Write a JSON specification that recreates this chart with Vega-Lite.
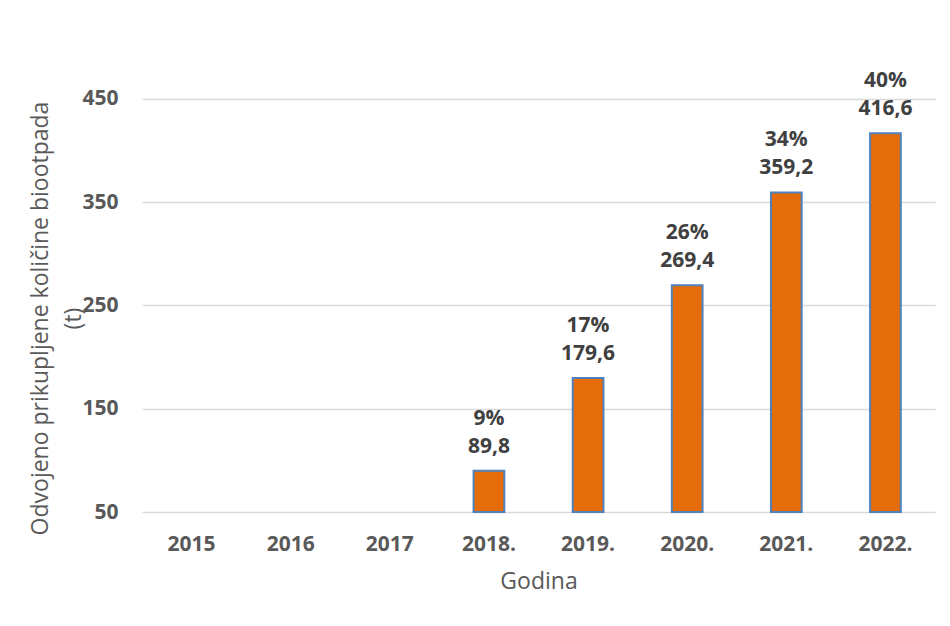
{
  "$schema": "https://vega.github.io/schema/vega-lite/v6.json",
  "autosize": {"type": "none"},
  "padding": {"left": 142, "top": 47, "right": 15, "bottom": 114},
  "width": 793,
  "height": 465,
  "background": "white",
  "config": {
    "view": {"stroke": null},
    "font": "Open Sans",
    "locale": {"number": {"decimal": ",", "thousands": ".", "grouping": [3], "currency": ["", " €"]}}
  },
  "data": {
    "values": [
      {"year": "2015", "amount": null, "share": null},
      {"year": "2016", "amount": null, "share": null},
      {"year": "2017", "amount": null, "share": null},
      {"year": "2018.", "amount": 89.8, "share": 0.09},
      {"year": "2019.", "amount": 179.6, "share": 0.17},
      {"year": "2020.", "amount": 269.4, "share": 0.26},
      {"year": "2021.", "amount": 359.2, "share": 0.34},
      {"year": "2022.", "amount": 416.6, "share": 0.40}
    ]
  },
  "encoding": {
    "x": {
      "field": "year",
      "type": "nominal",
      "sort": null,
      "scale": {"domain": ["2015", "2016", "2017", "2018.", "2019.", "2020.", "2021.", "2022."], "paddingInner": 0.69, "paddingOuter": 0.345},
      "axis": {
        "title": "Godina",
        "labelAngle": 0,
        "labelFont": "Open Sans",
        "labelFontSize": 21,
        "labelFontWeight": "bold",
        "labelColor": "#595959",
        "labelPadding": 21,
        "ticks": false,
        "domain": false,
        "titleFont": "Open Sans",
        "titleFontSize": 23,
        "titleFontWeight": "normal",
        "titleColor": "#595959",
        "titlePadding": 16
      }
    },
    "y": {
      "field": "amount",
      "type": "quantitative",
      "scale": {"domain": [50, 500], "nice": false, "zero": false},
      "axis": {
        "values": [50, 150, 250, 350, 450],
        "title": ["Odvojeno prikupljene količine biootpada", "(t)"],
        "labelFont": "Open Sans",
        "labelFontSize": 21,
        "labelFontWeight": "bold",
        "labelColor": "#595959",
        "labelPadding": 24,
        "ticks": false,
        "domain": false,
        "gridColor": "#d9d9d9",
        "gridWidth": 1.5,
        "titleFont": "Open Sans",
        "titleFontSize": 23,
        "titleFontWeight": "normal",
        "titleColor": "#595959",
        "titleLineHeight": 33,
        "titleBaseline": "middle",
        "titleX": -102,
        "titleY": 271
      }
    }
  },
  "layer": [
    {
      "mark": {"type": "bar", "color": "#E46C0A", "stroke": "#4F81BD", "strokeWidth": 2},
      "encoding": {"y2": {"datum": 50}}
    },
    {
      "mark": {"type": "text", "baseline": "alphabetic", "dy": -18, "font": "Open Sans", "fontSize": 21, "fontWeight": "bold", "color": "#404040"},
      "encoding": {"text": {"field": "amount", "type": "quantitative", "format": ".1f"}}
    },
    {
      "mark": {"type": "text", "baseline": "alphabetic", "dy": -46, "font": "Open Sans", "fontSize": 21, "fontWeight": "bold", "color": "#404040"},
      "encoding": {"text": {"field": "share", "type": "quantitative", "format": ".0%"}}
    }
  ]
}
